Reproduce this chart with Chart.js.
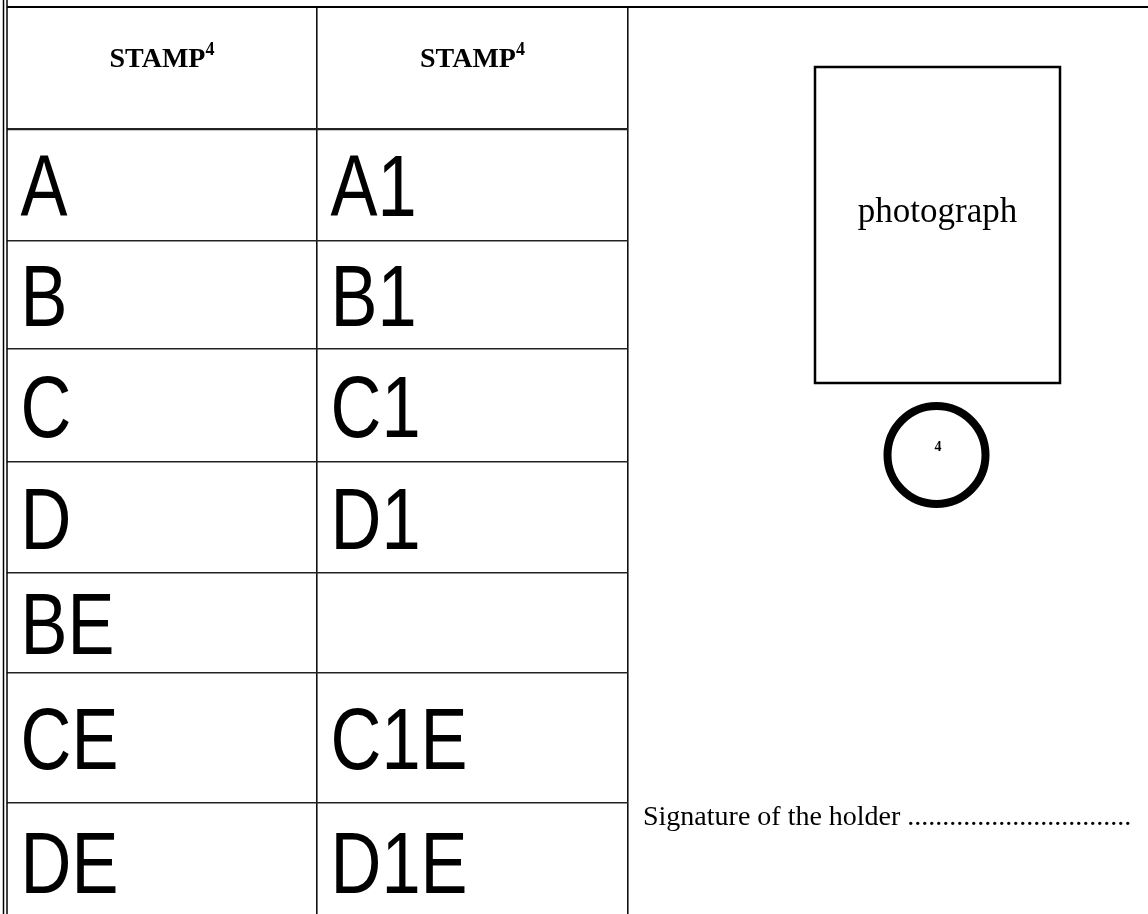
<!DOCTYPE html>
<html>
<head>
<meta charset="utf-8">
<title>Licence categories</title>
<script src="https://cdn.jsdelivr.net/npm/chart.js@4/dist/chart.umd.min.js"></script>
<style>
    html, body { margin: 0; padding: 0; background: #ffffff; }
    canvas { display: block; }
</style>
</head>
<body>
<canvas id="form-chart" width="1148" height="914"></canvas>
<script>
// Data read from the form
const stampHeaders = ['STAMP', 'STAMP'];
const stampNote = '4';
const categories = ['A', 'B', 'C', 'D', 'BE', 'CE', 'DE'];
const subCategories = ['A1', 'B1', 'C1', 'D1', '', 'C1E', 'D1E'];
const photoLabel = 'photograph';
const sealNote = '4';
const signatureLabel = 'Signature of the holder ................................';

// Layout of the table (axis units = page pixels)
const rowEdges = [7, 129, 241, 349, 462, 573, 673, 803, 921];
const colEdges = [7, 317, 628];
const tableBottom = 914;
const pageRight = 1148;

const serif = '"Liberation Serif", "Times New Roman", serif';
const sans = '"Liberation Sans", Arial, sans-serif';

// Draws the texts of the table and the right-hand panel
const formPlugin = {
    id: 'formPlugin',
    afterDraw(chart) {
        const ctx = chart.ctx;
        const x = chart.scales.x;
        const y = chart.scales.y;
        ctx.save();
        ctx.fillStyle = '#000';
        ctx.strokeStyle = '#000';

        // top rule across the whole page and the double rule on the left
        ctx.lineWidth = 2;
        ctx.beginPath();
        ctx.moveTo(x.getPixelForValue(7), y.getPixelForValue(rowEdges[0]));
        ctx.lineTo(pageRight, y.getPixelForValue(rowEdges[0]));
        ctx.stroke();
        ctx.lineWidth = 1.5;
        [3.5, 7].forEach(v => {
            ctx.beginPath();
            ctx.moveTo(x.getPixelForValue(v), 0);
            ctx.lineTo(x.getPixelForValue(v), y.getPixelForValue(tableBottom));
            ctx.stroke();
        });

        // column headers: STAMP with a raised note
        stampHeaders.forEach((h, i) => {
            const cx = (x.getPixelForValue(colEdges[i]) + x.getPixelForValue(colEdges[i + 1])) / 2;
            const base = y.getPixelForValue(rowEdges[0] + 60);
            ctx.font = 'bold 28px ' + serif;
            const w1 = ctx.measureText(h).width;
            ctx.font = 'bold 18px ' + serif;
            const w2 = ctx.measureText(stampNote).width;
            const left = cx - (w1 + w2) / 2;
            ctx.textAlign = 'left';
            ctx.textBaseline = 'alphabetic';
            ctx.font = 'bold 28px ' + serif;
            ctx.fillText(h, left, base);
            ctx.font = 'bold 18px ' + serif;
            ctx.fillText(stampNote, left + w1, base - 12);
        });

        // category cells, narrow sans
        const drawCell = (label, col, row) => {
            if (!label) return;
            const top = y.getPixelForValue(rowEdges[row + 1]);
            const bottom = y.getPixelForValue(rowEdges[row + 2]);
            const base = (top + bottom) / 2 + 31;
            ctx.save();
            ctx.translate(x.getPixelForValue(colEdges[col]) + 13.5, base);
            ctx.scale(0.81, 1);
            ctx.font = '87px ' + sans;
            ctx.textAlign = 'left';
            ctx.textBaseline = 'alphabetic';
            ctx.fillText(label, 0, 0);
            ctx.restore();
        };
        categories.forEach((c, i) => drawCell(c, 0, i));
        subCategories.forEach((c, i) => drawCell(c, 1, i));

        // photograph box
        const bx0 = x.getPixelForValue(815), bx1 = x.getPixelForValue(1060);
        const by0 = y.getPixelForValue(67), by1 = y.getPixelForValue(383);
        ctx.lineWidth = 2.5;
        ctx.strokeRect(bx0, by0, bx1 - bx0, by1 - by0);
        ctx.font = '35px ' + serif;
        ctx.textAlign = 'center';
        ctx.textBaseline = 'middle';
        ctx.fillText(photoLabel, (bx0 + bx1) / 2, y.getPixelForValue(213));

        // seal circle
        ctx.lineWidth = 8;
        ctx.beginPath();
        ctx.arc(x.getPixelForValue(936.5), y.getPixelForValue(455), 49, 0, Math.PI * 2);
        ctx.stroke();
        ctx.font = 'bold 14px ' + serif;
        ctx.fillText(sealNote, x.getPixelForValue(938), y.getPixelForValue(447));

        // signature line
        ctx.font = '28px ' + serif;
        ctx.textAlign = 'left';
        ctx.textBaseline = 'alphabetic';
        ctx.fillText(signatureLabel, x.getPixelForValue(643), y.getPixelForValue(825));

        ctx.restore();
    }
};

// grid lines of the two axes make the table rules
const ruleWidth = (ctx, edges, last) => {
    const v = ctx.tick ? ctx.tick.value : null;
    if (v === edges[0] || v === last) return 0;
    if (v === rowEdges[1]) return 2.2;
    return 1.6;
};

const chart = new Chart(document.getElementById('form-chart'), {
    type: 'scatter',
    data: { datasets: [{ data: [] }] },
    options: {
        responsive: false,
        animation: false,
        events: [],
        layout: { padding: { left: 7, top: 7, right: pageRight - colEdges[2], bottom: 0 } },
        plugins: { legend: { display: false }, tooltip: { enabled: false } },
        scales: {
            x: {
                type: 'linear',
                min: colEdges[0],
                max: colEdges[2],
                afterBuildTicks: scale => { scale.ticks = colEdges.map(v => ({ value: v })); },
                ticks: { display: false },
                border: { display: false },
                grid: {
                    drawTicks: false,
                    color: '#111',
                    lineWidth: ctx => ruleWidth(ctx, colEdges, -1)
                }
            },
            y: {
                type: 'linear',
                reverse: true,
                min: rowEdges[0],
                max: tableBottom,
                afterBuildTicks: scale => {
                    scale.ticks = rowEdges.filter(v => v <= tableBottom).map(v => ({ value: v }));
                },
                ticks: { display: false },
                border: { display: false },
                grid: {
                    drawTicks: false,
                    color: '#222',
                    lineWidth: ctx => ruleWidth(ctx, rowEdges, tableBottom)
                }
            }
        }
    },
    plugins: [formPlugin]
});
</script>
</body>
</html>
